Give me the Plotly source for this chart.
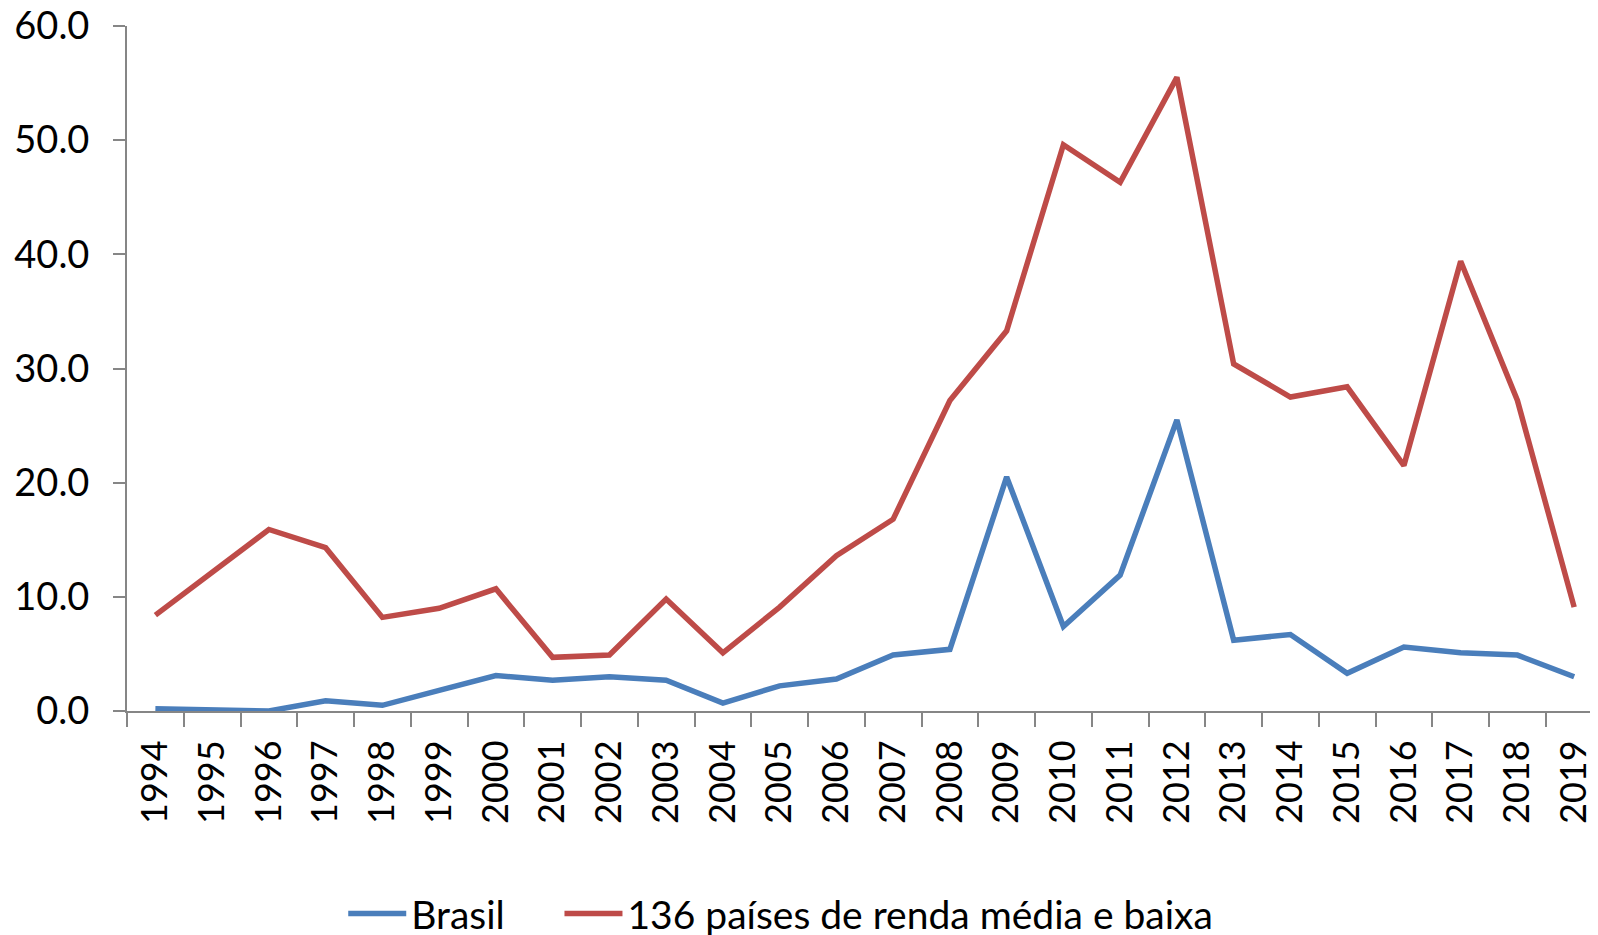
import plotly.graph_objects as go

# dados
anos = [str(a) for a in range(1994, 2020)]
brasil = [0.2, 0.1, 0.0, 0.9, 0.5, 1.8, 3.1, 2.7, 3.0, 2.7, 0.7, 2.2, 2.8,
          4.9, 5.4, 20.5, 7.4, 11.9, 25.5, 6.2, 6.7, 3.3, 5.6, 5.1, 4.9, 3.0]
paises_136 = [8.4, 12.2, 15.9, 14.3, 8.2, 9.0, 10.7, 4.7, 4.9, 9.8, 5.1, 9.1, 13.6,
              16.8, 27.2, 33.3, 49.6, 46.3, 55.5, 30.4, 27.5, 28.4, 21.5, 39.4, 27.2, 9.1]
y_ticks = [0, 10, 20, 30, 40, 50, 60]

fonte = "Lato, 'Open Sans', sans-serif"
cinza = "#868686"

fig = go.Figure()
fig.add_trace(go.Scatter(x=anos, y=brasil, mode="lines", name="Brasil",
                         legend="legend",
                         line=dict(color="#4A7EBB", width=5.5)))
fig.add_trace(go.Scatter(x=anos, y=paises_136, mode="lines",
                         name="136 países de renda média e baixa",
                         legend="legend2",
                         line=dict(color="#BE4B48", width=5.5)))

# cada série com a sua própria legenda, para controlar a posição
leg = dict(orientation="h", yanchor="middle", y=-0.296, xanchor="left",
           font=dict(size=39), bgcolor="rgba(0,0,0,0)", itemwidth=58)

# a página tem 8px de margem no body: figura de 1590x927
fig.update_layout(
    width=1590, height=927,
    margin=dict(l=119, r=0, t=18, b=224, pad=0, autoexpand=False),
    paper_bgcolor="white",
    plot_bgcolor="white",
    font=dict(family=fonte, color="black", size=36),
    showlegend=True,
    legend=dict(leg, x=0.147),
    legend2=dict(leg, x=0.294),
    xaxis=dict(
        type="category",
        range=[-0.5, 25.42],
        automargin=False,
        showline=True, linecolor=cinza, linewidth=2,
        ticks="outside", tickson="boundaries", ticklen=14,
        tickwidth=2, tickcolor=cinza,
        tickangle=-90, tickfont=dict(size=36), ticklabelstandoff=13,
        ticklabeloverflow="allow",
        showgrid=False, zeroline=False,
    ),
    yaxis=dict(
        range=[0, 60],
        automargin=False,
        tickvals=y_ticks, tickformat=".1f",
        showline=True, linecolor=cinza, linewidth=2,
        ticks="outside", ticklen=12, tickwidth=2, tickcolor=cinza,
        tickfont=dict(size=38), ticklabelstandoff=16,
        ticklabeloverflow="allow",
        showgrid=False, zeroline=False,
    ),
)

fig.write_html("out.html")
